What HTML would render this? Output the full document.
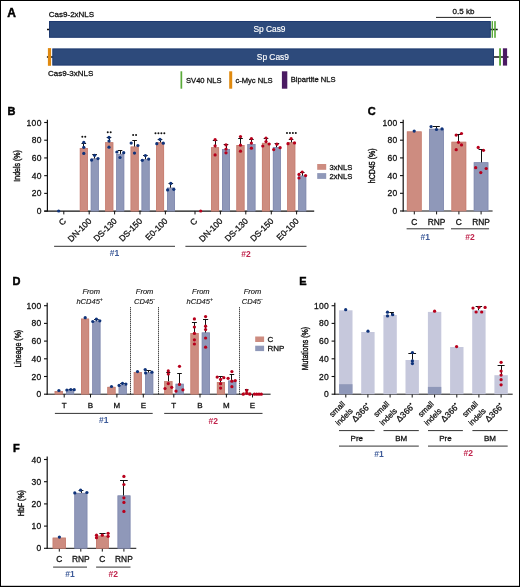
<!DOCTYPE html>
<html><head><meta charset="utf-8"><title>Figure</title>
<style>
html,body{margin:0;padding:0;background:#fff;}
body{width:520px;height:587px;overflow:hidden;}
svg{display:block;font-family:"Liberation Sans",sans-serif;will-change:transform;}
</style></head><body>
<svg width="520" height="587" viewBox="0 0 520 587">
<rect x="0" y="0" width="520" height="587" fill="#fff"/>
<text x="7.2" y="17.2" font-size="12" fill="#000" font-weight="bold" stroke="#000" stroke-width="0.45">A</text>
<text x="48.8" y="17.2" font-size="8" fill="#111" stroke="#111" stroke-width="0.28">Cas9-2xNLS</text>
<text x="452.6" y="14.4" font-size="8" fill="#111" stroke="#111" stroke-width="0.28">0.5 kb</text>
<line x1="436" y1="17.4" x2="491" y2="17.4" stroke="#222" stroke-width="1"/>
<line x1="47" y1="29.5" x2="497.7" y2="29.5" stroke="#111" stroke-width="1.4"/>
<rect x="49.5" y="21.5" width="440.8" height="15.8" fill="#2d4a7b" stroke="#1e3a70" stroke-width="1"/>
<rect x="491.6" y="21.1" width="1.4" height="16.7" fill="#5aaa3a"/>
<rect x="494.2" y="21.1" width="1.6" height="16.7" fill="#5aaa3a"/>
<text x="253.4" y="32.3" font-size="8.4" fill="#fff" stroke="#fff" stroke-width="0.15">Sp Cas9</text>
<line x1="46.9" y1="57" x2="508.5" y2="57" stroke="#111" stroke-width="1.5"/>
<rect x="47.9" y="48.1" width="3.2" height="17.7" fill="#e08a10"/>
<rect x="52.8" y="48.9" width="440.7" height="16.2" fill="#2d4a7b" stroke="#1e3a70" stroke-width="1"/>
<rect x="499.1" y="48.3" width="1.9" height="17.3" fill="#5aaa3a"/>
<rect x="502.9" y="48.3" width="4.2" height="17.3" fill="#4a1a62"/>
<text x="256.8" y="59.7" font-size="8.4" fill="#fff" stroke="#fff" stroke-width="0.15">Sp Cas9</text>
<text x="48" y="75.8" font-size="8" fill="#111" stroke="#111" stroke-width="0.28">Cas9-3xNLS</text>
<rect x="180.5" y="71.3" width="1.7" height="17.4" fill="#5aaa3a"/>
<text x="186" y="82.5" font-size="7.6" fill="#111" stroke="#111" stroke-width="0.28">SV40 NLS</text>
<rect x="229.2" y="71.3" width="3" height="17.4" fill="#e08a10"/>
<text x="235.4" y="82.6" font-size="7.6" fill="#111" stroke="#111" stroke-width="0.28">c-Myc NLS</text>
<rect x="281.9" y="71.3" width="5.4" height="17.4" fill="#4a1a62"/>
<text x="290.8" y="82.4" font-size="7.6" fill="#111" stroke="#111" stroke-width="0.28">Bipartite NLS</text>
<text x="7.6" y="115.1" font-size="11" fill="#000" font-weight="bold" stroke="#000" stroke-width="0.45">B</text>
<line x1="47.4" y1="119.8" x2="47.4" y2="211.6" stroke="#111" stroke-width="1.2"/>
<line x1="44.2" y1="211.1" x2="47.4" y2="211.1" stroke="#111" stroke-width="1.1"/>
<text x="41.7" y="214.1" font-size="8.5" text-anchor="end" fill="#111" stroke="#111" stroke-width="0.28" letter-spacing="0.3">0</text>
<line x1="44.2" y1="193.38" x2="47.4" y2="193.38" stroke="#111" stroke-width="1.1"/>
<text x="41.7" y="196.38" font-size="8.5" text-anchor="end" fill="#111" stroke="#111" stroke-width="0.28" letter-spacing="0.3">20</text>
<line x1="44.2" y1="175.66" x2="47.4" y2="175.66" stroke="#111" stroke-width="1.1"/>
<text x="41.7" y="178.66" font-size="8.5" text-anchor="end" fill="#111" stroke="#111" stroke-width="0.28" letter-spacing="0.3">40</text>
<line x1="44.2" y1="157.94" x2="47.4" y2="157.94" stroke="#111" stroke-width="1.1"/>
<text x="41.7" y="160.94" font-size="8.5" text-anchor="end" fill="#111" stroke="#111" stroke-width="0.28" letter-spacing="0.3">60</text>
<line x1="44.2" y1="140.22" x2="47.4" y2="140.22" stroke="#111" stroke-width="1.1"/>
<text x="41.7" y="143.22" font-size="8.5" text-anchor="end" fill="#111" stroke="#111" stroke-width="0.28" letter-spacing="0.3">80</text>
<line x1="44.2" y1="122.5" x2="47.4" y2="122.5" stroke="#111" stroke-width="1.1"/>
<text x="41.7" y="125.5" font-size="8.5" text-anchor="end" fill="#111" stroke="#111" stroke-width="0.28" letter-spacing="0.3">100</text>
<text transform="translate(16.7 165.9) rotate(-90) scale(0.78 1)" font-size="9" text-anchor="middle" y="3.24" stroke="#111" stroke-width="0.4" fill="#111">Indels (%)</text>
<line x1="44.2" y1="211.1" x2="314.2" y2="211.1" stroke="#111" stroke-width="1.2"/>
<line x1="63.8" y1="211.1" x2="63.8" y2="214.4" stroke="#111" stroke-width="1"/>
<line x1="89.2" y1="211.1" x2="89.2" y2="214.4" stroke="#111" stroke-width="1"/>
<line x1="114.6" y1="211.1" x2="114.6" y2="214.4" stroke="#111" stroke-width="1"/>
<line x1="140" y1="211.1" x2="140" y2="214.4" stroke="#111" stroke-width="1"/>
<line x1="165.4" y1="211.1" x2="165.4" y2="214.4" stroke="#111" stroke-width="1"/>
<line x1="195" y1="211.1" x2="195" y2="214.4" stroke="#111" stroke-width="1"/>
<line x1="220.4" y1="211.1" x2="220.4" y2="214.4" stroke="#111" stroke-width="1"/>
<line x1="245.8" y1="211.1" x2="245.8" y2="214.4" stroke="#111" stroke-width="1"/>
<line x1="271.3" y1="211.1" x2="271.3" y2="214.4" stroke="#111" stroke-width="1"/>
<line x1="296.6" y1="211.1" x2="296.6" y2="214.4" stroke="#111" stroke-width="1"/>
<rect x="79.85" y="148" width="8" height="63.1" fill="#cd8c80"/>
<rect x="80.2" y="148.35" width="7.3" height="62.75" fill="none" stroke="#c67d6f" stroke-width="0.7"/>
<rect x="90.8" y="158.5" width="8" height="52.6" fill="#8f98b9"/>
<rect x="91.15" y="158.85" width="7.3" height="52.25" fill="none" stroke="#8189ae" stroke-width="0.7"/>
<rect x="105.25" y="142.3" width="8" height="68.8" fill="#cd8c80"/>
<rect x="105.6" y="142.65" width="7.3" height="68.45" fill="none" stroke="#c67d6f" stroke-width="0.7"/>
<rect x="116.2" y="153.9" width="8" height="57.2" fill="#8f98b9"/>
<rect x="116.55" y="154.25" width="7.3" height="56.85" fill="none" stroke="#8189ae" stroke-width="0.7"/>
<rect x="130.65" y="146.6" width="8" height="64.5" fill="#cd8c80"/>
<rect x="131" y="146.95" width="7.3" height="64.15" fill="none" stroke="#c67d6f" stroke-width="0.7"/>
<rect x="141.6" y="159.1" width="8" height="52" fill="#8f98b9"/>
<rect x="141.95" y="159.45" width="7.3" height="51.65" fill="none" stroke="#8189ae" stroke-width="0.7"/>
<rect x="156.05" y="142.3" width="8" height="68.8" fill="#cd8c80"/>
<rect x="156.4" y="142.65" width="7.3" height="68.45" fill="none" stroke="#c67d6f" stroke-width="0.7"/>
<rect x="167" y="187.7" width="8" height="23.4" fill="#8f98b9"/>
<rect x="167.35" y="188.05" width="7.3" height="23.05" fill="none" stroke="#8189ae" stroke-width="0.7"/>
<rect x="211.05" y="147.3" width="8" height="63.8" fill="#cd8c80"/>
<rect x="211.4" y="147.65" width="7.3" height="63.45" fill="none" stroke="#c67d6f" stroke-width="0.7"/>
<rect x="222" y="149" width="8" height="62.1" fill="#8f98b9"/>
<rect x="222.35" y="149.35" width="7.3" height="61.75" fill="none" stroke="#8189ae" stroke-width="0.7"/>
<rect x="236.45" y="145.1" width="8" height="66" fill="#cd8c80"/>
<rect x="236.8" y="145.45" width="7.3" height="65.65" fill="none" stroke="#c67d6f" stroke-width="0.7"/>
<rect x="247.4" y="144.1" width="8" height="67" fill="#8f98b9"/>
<rect x="247.75" y="144.45" width="7.3" height="66.65" fill="none" stroke="#8189ae" stroke-width="0.7"/>
<rect x="261.95" y="142.9" width="8" height="68.2" fill="#cd8c80"/>
<rect x="262.3" y="143.25" width="7.3" height="67.85" fill="none" stroke="#c67d6f" stroke-width="0.7"/>
<rect x="272.9" y="147.2" width="8" height="63.9" fill="#8f98b9"/>
<rect x="273.25" y="147.55" width="7.3" height="63.55" fill="none" stroke="#8189ae" stroke-width="0.7"/>
<rect x="287.25" y="142.3" width="8" height="68.8" fill="#cd8c80"/>
<rect x="287.6" y="142.65" width="7.3" height="68.45" fill="none" stroke="#c67d6f" stroke-width="0.7"/>
<rect x="298.2" y="175.7" width="8" height="35.4" fill="#8f98b9"/>
<rect x="298.55" y="176.05" width="7.3" height="35.05" fill="none" stroke="#8189ae" stroke-width="0.7"/>
<line x1="83.5" y1="148" x2="83.5" y2="143.5" stroke="#111" stroke-width="1.0"/>
<line x1="81.5" y1="143.5" x2="86.1" y2="143.5" stroke="#111" stroke-width="1.0"/>
<line x1="94.5" y1="158.5" x2="94.5" y2="154.5" stroke="#111" stroke-width="1.0"/>
<line x1="92.3" y1="154.5" x2="96.9" y2="154.5" stroke="#111" stroke-width="1.0"/>
<line x1="109.5" y1="142.3" x2="109.5" y2="137.5" stroke="#111" stroke-width="1.0"/>
<line x1="106.7" y1="137.5" x2="111.3" y2="137.5" stroke="#111" stroke-width="1.0"/>
<line x1="120.5" y1="153.9" x2="120.5" y2="150.5" stroke="#111" stroke-width="1.0"/>
<line x1="117.7" y1="150.5" x2="122.3" y2="150.5" stroke="#111" stroke-width="1.0"/>
<line x1="134.5" y1="146.6" x2="134.5" y2="140.5" stroke="#111" stroke-width="1.0"/>
<line x1="132.3" y1="140.5" x2="136.9" y2="140.5" stroke="#111" stroke-width="1.0"/>
<line x1="145.5" y1="159.1" x2="145.5" y2="155.5" stroke="#111" stroke-width="1.0"/>
<line x1="143.1" y1="155.5" x2="147.7" y2="155.5" stroke="#111" stroke-width="1.0"/>
<line x1="160.5" y1="142.3" x2="160.5" y2="139.5" stroke="#111" stroke-width="1.0"/>
<line x1="157.7" y1="139.5" x2="162.3" y2="139.5" stroke="#111" stroke-width="1.0"/>
<line x1="170.5" y1="187.7" x2="170.5" y2="183.5" stroke="#111" stroke-width="1.0"/>
<line x1="168.5" y1="183.5" x2="173.1" y2="183.5" stroke="#111" stroke-width="1.0"/>
<line x1="215.5" y1="147.3" x2="215.5" y2="140.5" stroke="#111" stroke-width="1.0"/>
<line x1="212.8" y1="140.5" x2="217.4" y2="140.5" stroke="#111" stroke-width="1.0"/>
<line x1="226.5" y1="149" x2="226.5" y2="144.5" stroke="#111" stroke-width="1.0"/>
<line x1="223.7" y1="144.5" x2="228.3" y2="144.5" stroke="#111" stroke-width="1.0"/>
<line x1="240.5" y1="145.1" x2="240.5" y2="138.5" stroke="#111" stroke-width="1.0"/>
<line x1="238.2" y1="138.5" x2="242.8" y2="138.5" stroke="#111" stroke-width="1.0"/>
<line x1="251.5" y1="144.1" x2="251.5" y2="139.5" stroke="#111" stroke-width="1.0"/>
<line x1="249.1" y1="139.5" x2="253.7" y2="139.5" stroke="#111" stroke-width="1.0"/>
<line x1="266.5" y1="142.9" x2="266.5" y2="138.5" stroke="#111" stroke-width="1.0"/>
<line x1="263.7" y1="138.5" x2="268.3" y2="138.5" stroke="#111" stroke-width="1.0"/>
<line x1="276.5" y1="147.2" x2="276.5" y2="143.5" stroke="#111" stroke-width="1.0"/>
<line x1="274.6" y1="143.5" x2="279.2" y2="143.5" stroke="#111" stroke-width="1.0"/>
<line x1="291.5" y1="142.3" x2="291.5" y2="139.5" stroke="#111" stroke-width="1.0"/>
<line x1="288.8" y1="139.5" x2="293.4" y2="139.5" stroke="#111" stroke-width="1.0"/>
<line x1="302.5" y1="175.7" x2="302.5" y2="172.5" stroke="#111" stroke-width="1.0"/>
<line x1="299.9" y1="172.5" x2="304.5" y2="172.5" stroke="#111" stroke-width="1.0"/>
<circle cx="58.7" cy="211" r="1.62" fill="#0f337a"/>
<circle cx="83.8" cy="142.4" r="1.62" fill="#0f337a"/>
<circle cx="83.8" cy="147.3" r="1.62" fill="#0f337a"/>
<circle cx="83.8" cy="153.4" r="1.62" fill="#0f337a"/>
<circle cx="94.6" cy="155.3" r="1.62" fill="#0f337a"/>
<circle cx="91.6" cy="160.1" r="1.62" fill="#0f337a"/>
<circle cx="98" cy="158.6" r="1.62" fill="#0f337a"/>
<circle cx="109" cy="137.4" r="1.62" fill="#0f337a"/>
<circle cx="109" cy="141" r="1.62" fill="#0f337a"/>
<circle cx="109" cy="147.2" r="1.62" fill="#0f337a"/>
<circle cx="116.9" cy="152" r="1.62" fill="#0f337a"/>
<circle cx="123.7" cy="152.7" r="1.62" fill="#0f337a"/>
<circle cx="120" cy="157.5" r="1.62" fill="#0f337a"/>
<circle cx="131.2" cy="143.1" r="1.62" fill="#0f337a"/>
<circle cx="137.9" cy="145.5" r="1.62" fill="#0f337a"/>
<circle cx="134.5" cy="153.1" r="1.62" fill="#0f337a"/>
<circle cx="145.4" cy="155.6" r="1.62" fill="#0f337a"/>
<circle cx="142.3" cy="160.3" r="1.62" fill="#0f337a"/>
<circle cx="148.7" cy="159.1" r="1.62" fill="#0f337a"/>
<circle cx="160" cy="139.4" r="1.62" fill="#0f337a"/>
<circle cx="156.8" cy="143.7" r="1.62" fill="#0f337a"/>
<circle cx="163.3" cy="143.2" r="1.62" fill="#0f337a"/>
<circle cx="170.8" cy="183.4" r="1.62" fill="#0f337a"/>
<circle cx="167.6" cy="189.9" r="1.62" fill="#0f337a"/>
<circle cx="173.8" cy="189.3" r="1.62" fill="#0f337a"/>
<circle cx="200.7" cy="211" r="1.62" fill="#b8001c"/>
<circle cx="215.1" cy="139.7" r="1.62" fill="#b8001c"/>
<circle cx="215.1" cy="145.8" r="1.62" fill="#b8001c"/>
<circle cx="215.1" cy="154.9" r="1.62" fill="#b8001c"/>
<circle cx="226" cy="144.9" r="1.62" fill="#b8001c"/>
<circle cx="226" cy="149.1" r="1.62" fill="#b8001c"/>
<circle cx="226" cy="152.8" r="1.62" fill="#b8001c"/>
<circle cx="240.5" cy="136.6" r="1.62" fill="#b8001c"/>
<circle cx="240.5" cy="145.2" r="1.62" fill="#b8001c"/>
<circle cx="240.5" cy="151.2" r="1.62" fill="#b8001c"/>
<circle cx="251.4" cy="138.6" r="1.62" fill="#b8001c"/>
<circle cx="251.4" cy="143.1" r="1.62" fill="#b8001c"/>
<circle cx="251.4" cy="148.2" r="1.62" fill="#b8001c"/>
<circle cx="266" cy="138" r="1.62" fill="#b8001c"/>
<circle cx="266" cy="141.6" r="1.62" fill="#b8001c"/>
<circle cx="269.2" cy="144" r="1.62" fill="#b8001c"/>
<circle cx="262.8" cy="146" r="1.62" fill="#b8001c"/>
<circle cx="276.9" cy="144.2" r="1.62" fill="#b8001c"/>
<circle cx="273.7" cy="149.6" r="1.62" fill="#b8001c"/>
<circle cx="280.1" cy="147.7" r="1.62" fill="#b8001c"/>
<circle cx="291.1" cy="138.7" r="1.62" fill="#b8001c"/>
<circle cx="288" cy="143.7" r="1.62" fill="#b8001c"/>
<circle cx="294.5" cy="142.9" r="1.62" fill="#b8001c"/>
<circle cx="302.2" cy="172" r="1.62" fill="#b8001c"/>
<circle cx="299" cy="174.4" r="1.62" fill="#b8001c"/>
<circle cx="305.6" cy="175.6" r="1.62" fill="#b8001c"/>
<circle cx="299" cy="178" r="1.62" fill="#b8001c"/>
<circle cx="82.33" cy="136.7" r="1.0" fill="#111"/>
<circle cx="85.27" cy="136.7" r="1.0" fill="#111"/>
<circle cx="107.73" cy="132.2" r="1.0" fill="#111"/>
<circle cx="110.67" cy="132.2" r="1.0" fill="#111"/>
<circle cx="133.12" cy="135.1" r="1.0" fill="#111"/>
<circle cx="136.07" cy="135.1" r="1.0" fill="#111"/>
<circle cx="155.47" cy="133.3" r="1.0" fill="#111"/>
<circle cx="158.43" cy="133.3" r="1.0" fill="#111"/>
<circle cx="161.38" cy="133.3" r="1.0" fill="#111"/>
<circle cx="164.33" cy="133.3" r="1.0" fill="#111"/>
<circle cx="286.97" cy="133.1" r="1.0" fill="#111"/>
<circle cx="289.92" cy="133.1" r="1.0" fill="#111"/>
<circle cx="292.88" cy="133.1" r="1.0" fill="#111"/>
<circle cx="295.82" cy="133.1" r="1.0" fill="#111"/>
<text transform="translate(66.6 221.7) rotate(-45)" font-size="8.5" text-anchor="end" fill="#111" stroke="#111" stroke-width="0.28">C</text>
<text transform="translate(92 221.7) rotate(-45)" font-size="8.5" text-anchor="end" fill="#111" stroke="#111" stroke-width="0.28">DN-100</text>
<text transform="translate(117.4 221.7) rotate(-45)" font-size="8.5" text-anchor="end" fill="#111" stroke="#111" stroke-width="0.28">DS-130</text>
<text transform="translate(142.8 221.7) rotate(-45)" font-size="8.5" text-anchor="end" fill="#111" stroke="#111" stroke-width="0.28">DS-150</text>
<text transform="translate(168.2 221.7) rotate(-45)" font-size="8.5" text-anchor="end" fill="#111" stroke="#111" stroke-width="0.28">E0-100</text>
<text transform="translate(197.8 221.7) rotate(-45)" font-size="8.5" text-anchor="end" fill="#111" stroke="#111" stroke-width="0.28">C</text>
<text transform="translate(223.2 221.7) rotate(-45)" font-size="8.5" text-anchor="end" fill="#111" stroke="#111" stroke-width="0.28">DN-100</text>
<text transform="translate(248.6 221.7) rotate(-45)" font-size="8.5" text-anchor="end" fill="#111" stroke="#111" stroke-width="0.28">DS-130</text>
<text transform="translate(274.1 221.7) rotate(-45)" font-size="8.5" text-anchor="end" fill="#111" stroke="#111" stroke-width="0.28">DS-150</text>
<text transform="translate(299.4 221.7) rotate(-45)" font-size="8.5" text-anchor="end" fill="#111" stroke="#111" stroke-width="0.28">E0-100</text>
<line x1="54.1" y1="246.3" x2="175" y2="246.3" stroke="#333" stroke-width="1"/>
<line x1="185.4" y1="246.3" x2="306.5" y2="246.3" stroke="#333" stroke-width="1"/>
<text x="114.6" y="256.4" font-size="8.5" text-anchor="middle" fill="#3d5a98" font-weight="bold">#1</text>
<text x="246" y="256.6" font-size="8.5" text-anchor="middle" fill="#c0244c" font-weight="bold">#2</text>
<rect x="317.2" y="164" width="9" height="5.8" fill="#cd8c80"/>
<rect x="317.2" y="173.1" width="9" height="5.8" fill="#8f98b9"/>
<text x="329.6" y="169.6" font-size="7.6" fill="#111" stroke="#111" stroke-width="0.28">3xNLS</text>
<text x="329.6" y="178.8" font-size="7.6" fill="#111" stroke="#111" stroke-width="0.28">2xNLS</text>
<text x="367.8" y="115" font-size="11" fill="#000" font-weight="bold" stroke="#000" stroke-width="0.45">C</text>
<line x1="403.2" y1="119.8" x2="403.2" y2="211.5" stroke="#111" stroke-width="1.2"/>
<line x1="400" y1="211" x2="403.2" y2="211" stroke="#111" stroke-width="1.1"/>
<text x="397.5" y="214" font-size="8.5" text-anchor="end" fill="#111" stroke="#111" stroke-width="0.28" letter-spacing="0.3">0</text>
<line x1="400" y1="193.3" x2="403.2" y2="193.3" stroke="#111" stroke-width="1.1"/>
<text x="397.5" y="196.3" font-size="8.5" text-anchor="end" fill="#111" stroke="#111" stroke-width="0.28" letter-spacing="0.3">20</text>
<line x1="400" y1="175.6" x2="403.2" y2="175.6" stroke="#111" stroke-width="1.1"/>
<text x="397.5" y="178.6" font-size="8.5" text-anchor="end" fill="#111" stroke="#111" stroke-width="0.28" letter-spacing="0.3">40</text>
<line x1="400" y1="157.9" x2="403.2" y2="157.9" stroke="#111" stroke-width="1.1"/>
<text x="397.5" y="160.9" font-size="8.5" text-anchor="end" fill="#111" stroke="#111" stroke-width="0.28" letter-spacing="0.3">60</text>
<line x1="400" y1="140.2" x2="403.2" y2="140.2" stroke="#111" stroke-width="1.1"/>
<text x="397.5" y="143.2" font-size="8.5" text-anchor="end" fill="#111" stroke="#111" stroke-width="0.28" letter-spacing="0.3">80</text>
<line x1="400" y1="122.5" x2="403.2" y2="122.5" stroke="#111" stroke-width="1.1"/>
<text x="397.5" y="125.5" font-size="8.5" text-anchor="end" fill="#111" stroke="#111" stroke-width="0.28" letter-spacing="0.3">100</text>
<text transform="translate(372 165.8) rotate(-90) scale(0.78 1)" font-size="9" text-anchor="middle" y="3.24" stroke="#111" stroke-width="0.4" fill="#111">hCD45 (%)</text>
<line x1="402.7" y1="211" x2="492.6" y2="211" stroke="#111" stroke-width="1"/>
<line x1="414.3" y1="211" x2="414.3" y2="214.4" stroke="#111" stroke-width="1"/>
<line x1="436.6" y1="211" x2="436.6" y2="214.4" stroke="#111" stroke-width="1"/>
<line x1="458.9" y1="211" x2="458.9" y2="214.4" stroke="#111" stroke-width="1"/>
<line x1="481.1" y1="211" x2="481.1" y2="214.4" stroke="#111" stroke-width="1"/>
<rect x="406.9" y="131.5" width="14.7" height="79.5" fill="#cd8c80"/>
<rect x="407.25" y="131.85" width="14" height="79.15" fill="none" stroke="#c67d6f" stroke-width="0.7"/>
<rect x="429.2" y="128.8" width="14.7" height="82.2" fill="#8f98b9"/>
<rect x="429.55" y="129.15" width="14" height="81.85" fill="none" stroke="#8189ae" stroke-width="0.7"/>
<rect x="451.5" y="141.8" width="14.7" height="69.2" fill="#cd8c80"/>
<rect x="451.85" y="142.15" width="14" height="68.85" fill="none" stroke="#c67d6f" stroke-width="0.7"/>
<rect x="473.8" y="162.3" width="14.5" height="48.7" fill="#8f98b9"/>
<rect x="474.15" y="162.65" width="13.8" height="48.35" fill="none" stroke="#8189ae" stroke-width="0.7"/>
<line x1="436.5" y1="128.8" x2="436.5" y2="126.5" stroke="#111" stroke-width="1.0"/>
<line x1="432.8" y1="126.5" x2="439.8" y2="126.5" stroke="#111" stroke-width="1.0"/>
<line x1="458.5" y1="141.8" x2="458.5" y2="134.5" stroke="#111" stroke-width="1.0"/>
<line x1="456.5" y1="134.5" x2="461.1" y2="134.5" stroke="#111" stroke-width="1.0"/>
<line x1="481.5" y1="162.3" x2="481.5" y2="149.5" stroke="#111" stroke-width="1.0"/>
<line x1="478.6" y1="149.5" x2="483.6" y2="149.5" stroke="#111" stroke-width="1.0"/>
<circle cx="414.2" cy="131.1" r="1.62" fill="#0f337a"/>
<circle cx="431.1" cy="126.6" r="1.62" fill="#0f337a"/>
<circle cx="436.5" cy="129.5" r="1.62" fill="#0f337a"/>
<circle cx="442" cy="128.9" r="1.62" fill="#0f337a"/>
<circle cx="456.2" cy="135.1" r="1.62" fill="#b8001c"/>
<circle cx="461.5" cy="133.5" r="1.62" fill="#b8001c"/>
<circle cx="458.5" cy="142.3" r="1.62" fill="#b8001c"/>
<circle cx="461.5" cy="144.9" r="1.62" fill="#b8001c"/>
<circle cx="456.2" cy="149.7" r="1.62" fill="#b8001c"/>
<circle cx="478.2" cy="147.4" r="1.62" fill="#b8001c"/>
<circle cx="483.5" cy="150.3" r="1.62" fill="#b8001c"/>
<circle cx="475.7" cy="167.7" r="1.62" fill="#b8001c"/>
<circle cx="486.2" cy="168.5" r="1.62" fill="#b8001c"/>
<circle cx="480.8" cy="172.6" r="1.62" fill="#b8001c"/>
<text x="414.3" y="225.1" font-size="8.4" text-anchor="middle" fill="#111" stroke="#111" stroke-width="0.28">C</text>
<text x="436.6" y="225.1" font-size="8.4" text-anchor="middle" fill="#111" stroke="#111" stroke-width="0.28">RNP</text>
<text x="458.9" y="225.1" font-size="8.4" text-anchor="middle" fill="#111" stroke="#111" stroke-width="0.28">C</text>
<text x="481.1" y="225.1" font-size="8.4" text-anchor="middle" fill="#111" stroke="#111" stroke-width="0.28">RNP</text>
<line x1="406.6" y1="228.8" x2="444.1" y2="228.8" stroke="#333" stroke-width="1"/>
<line x1="451" y1="228.8" x2="489.1" y2="228.8" stroke="#333" stroke-width="1"/>
<text x="425.3" y="239.8" font-size="8.5" text-anchor="middle" fill="#3d5a98" font-weight="bold">#1</text>
<text x="470.1" y="239.8" font-size="8.5" text-anchor="middle" fill="#c0244c" font-weight="bold">#2</text>
<text x="12.4" y="284.9" font-size="11" fill="#000" font-weight="bold" stroke="#000" stroke-width="0.45">D</text>
<line x1="47.2" y1="302.8" x2="47.2" y2="394.7" stroke="#111" stroke-width="1.2"/>
<line x1="44" y1="394.2" x2="47.2" y2="394.2" stroke="#111" stroke-width="1.1"/>
<text x="41.5" y="397.2" font-size="8.5" text-anchor="end" fill="#111" stroke="#111" stroke-width="0.28" letter-spacing="0.3">0</text>
<line x1="44" y1="376.5" x2="47.2" y2="376.5" stroke="#111" stroke-width="1.1"/>
<text x="41.5" y="379.5" font-size="8.5" text-anchor="end" fill="#111" stroke="#111" stroke-width="0.28" letter-spacing="0.3">20</text>
<line x1="44" y1="358.8" x2="47.2" y2="358.8" stroke="#111" stroke-width="1.1"/>
<text x="41.5" y="361.8" font-size="8.5" text-anchor="end" fill="#111" stroke="#111" stroke-width="0.28" letter-spacing="0.3">40</text>
<line x1="44" y1="341.1" x2="47.2" y2="341.1" stroke="#111" stroke-width="1.1"/>
<text x="41.5" y="344.1" font-size="8.5" text-anchor="end" fill="#111" stroke="#111" stroke-width="0.28" letter-spacing="0.3">60</text>
<line x1="44" y1="323.4" x2="47.2" y2="323.4" stroke="#111" stroke-width="1.1"/>
<text x="41.5" y="326.4" font-size="8.5" text-anchor="end" fill="#111" stroke="#111" stroke-width="0.28" letter-spacing="0.3">80</text>
<line x1="44" y1="305.7" x2="47.2" y2="305.7" stroke="#111" stroke-width="1.1"/>
<text x="41.5" y="308.7" font-size="8.5" text-anchor="end" fill="#111" stroke="#111" stroke-width="0.28" letter-spacing="0.3">100</text>
<text transform="translate(17.4 348.7) rotate(-90) scale(0.78 1)" font-size="9" text-anchor="middle" y="3.24" stroke="#111" stroke-width="0.4" fill="#111">Lineage (%)</text>
<line x1="46.7" y1="394.2" x2="270.6" y2="394.2" stroke="#111" stroke-width="1"/>
<line x1="64.2" y1="394.2" x2="64.2" y2="397.5" stroke="#111" stroke-width="1"/>
<line x1="90.5" y1="394.2" x2="90.5" y2="397.5" stroke="#111" stroke-width="1"/>
<line x1="116.9" y1="394.2" x2="116.9" y2="397.5" stroke="#111" stroke-width="1"/>
<line x1="143.3" y1="394.2" x2="143.3" y2="397.5" stroke="#111" stroke-width="1"/>
<line x1="173.8" y1="394.2" x2="173.8" y2="397.5" stroke="#111" stroke-width="1"/>
<line x1="200" y1="394.2" x2="200" y2="397.5" stroke="#111" stroke-width="1"/>
<line x1="226.4" y1="394.2" x2="226.4" y2="397.5" stroke="#111" stroke-width="1"/>
<line x1="252.5" y1="394.2" x2="252.5" y2="397.5" stroke="#111" stroke-width="1"/>
<rect x="54.7" y="391.1" width="8.1" height="3.1" fill="#cd8c80"/>
<rect x="55.05" y="391.45" width="7.4" height="2.75" fill="none" stroke="#c67d6f" stroke-width="0.7"/>
<rect x="66" y="389.2" width="8.1" height="5" fill="#8f98b9"/>
<rect x="66.35" y="389.55" width="7.4" height="4.65" fill="none" stroke="#8189ae" stroke-width="0.7"/>
<rect x="81" y="318.7" width="8.1" height="75.5" fill="#cd8c80"/>
<rect x="81.35" y="319.05" width="7.4" height="75.15" fill="none" stroke="#c67d6f" stroke-width="0.7"/>
<rect x="92.3" y="321.2" width="8.1" height="73" fill="#8f98b9"/>
<rect x="92.65" y="321.55" width="7.4" height="72.65" fill="none" stroke="#8189ae" stroke-width="0.7"/>
<rect x="107.4" y="386.9" width="8.1" height="7.3" fill="#cd8c80"/>
<rect x="107.75" y="387.25" width="7.4" height="6.95" fill="none" stroke="#c67d6f" stroke-width="0.7"/>
<rect x="118.7" y="385" width="8.1" height="9.2" fill="#8f98b9"/>
<rect x="119.05" y="385.35" width="7.4" height="8.85" fill="none" stroke="#8189ae" stroke-width="0.7"/>
<rect x="133.8" y="372.1" width="8.1" height="22.1" fill="#cd8c80"/>
<rect x="134.15" y="372.45" width="7.4" height="21.75" fill="none" stroke="#c67d6f" stroke-width="0.7"/>
<rect x="145.1" y="372.5" width="8.1" height="21.7" fill="#8f98b9"/>
<rect x="145.45" y="372.85" width="7.4" height="21.35" fill="none" stroke="#8189ae" stroke-width="0.7"/>
<rect x="164.3" y="381.3" width="8.1" height="12.9" fill="#cd8c80"/>
<rect x="164.65" y="381.65" width="7.4" height="12.55" fill="none" stroke="#c67d6f" stroke-width="0.7"/>
<rect x="175.6" y="383.8" width="8.1" height="10.4" fill="#8f98b9"/>
<rect x="175.95" y="384.15" width="7.4" height="10.05" fill="none" stroke="#8189ae" stroke-width="0.7"/>
<rect x="190.5" y="333.1" width="8.1" height="61.1" fill="#cd8c80"/>
<rect x="190.85" y="333.45" width="7.4" height="60.75" fill="none" stroke="#c67d6f" stroke-width="0.7"/>
<rect x="201.8" y="332.5" width="8.1" height="61.7" fill="#8f98b9"/>
<rect x="202.15" y="332.85" width="7.4" height="61.35" fill="none" stroke="#8189ae" stroke-width="0.7"/>
<rect x="216.9" y="382.1" width="8.1" height="12.1" fill="#cd8c80"/>
<rect x="217.25" y="382.45" width="7.4" height="11.75" fill="none" stroke="#c67d6f" stroke-width="0.7"/>
<rect x="228.2" y="380.6" width="8.1" height="13.6" fill="#8f98b9"/>
<rect x="228.55" y="380.95" width="7.4" height="13.25" fill="none" stroke="#8189ae" stroke-width="0.7"/>
<rect x="243" y="392.6" width="8.1" height="1.6" fill="#cd8c80"/>
<rect x="243.35" y="392.95" width="7.4" height="1.25" fill="none" stroke="#c67d6f" stroke-width="0.7"/>
<line x1="130.5" y1="307.3" x2="130.5" y2="394.2" stroke="#000" stroke-width="1.0" stroke-dasharray="1 1"/>
<line x1="158.5" y1="307.3" x2="158.5" y2="394.2" stroke="#000" stroke-width="1.0" stroke-dasharray="1 1"/>
<line x1="239.5" y1="307.3" x2="239.5" y2="394.2" stroke="#000" stroke-width="1.0" stroke-dasharray="1 1"/>
<line x1="70.5" y1="389.2" x2="70.5" y2="389.5" stroke="#111" stroke-width="1.0"/>
<line x1="69.05" y1="389.5" x2="72.55" y2="389.5" stroke="#111" stroke-width="1.0"/>
<line x1="96.5" y1="321.2" x2="96.5" y2="319.5" stroke="#111" stroke-width="1.0"/>
<line x1="94.1" y1="319.5" x2="98.7" y2="319.5" stroke="#111" stroke-width="1.0"/>
<line x1="122.5" y1="385" x2="122.5" y2="383.5" stroke="#111" stroke-width="1.0"/>
<line x1="120.2" y1="383.5" x2="124.8" y2="383.5" stroke="#111" stroke-width="1.0"/>
<line x1="148.5" y1="372.5" x2="148.5" y2="370.5" stroke="#111" stroke-width="1.0"/>
<line x1="146.2" y1="370.5" x2="150.8" y2="370.5" stroke="#111" stroke-width="1.0"/>
<line x1="168.5" y1="381.3" x2="168.5" y2="372.5" stroke="#111" stroke-width="1.0"/>
<line x1="166.25" y1="372.5" x2="170.35" y2="372.5" stroke="#111" stroke-width="1.0"/>
<line x1="179.5" y1="383.8" x2="179.5" y2="373.5" stroke="#111" stroke-width="1.0"/>
<line x1="177.2" y1="373.5" x2="181.8" y2="373.5" stroke="#111" stroke-width="1.0"/>
<line x1="194.5" y1="333.1" x2="194.5" y2="322.5" stroke="#111" stroke-width="1.0"/>
<line x1="191.95" y1="322.5" x2="196.85" y2="322.5" stroke="#111" stroke-width="1.0"/>
<line x1="205.5" y1="332.5" x2="205.5" y2="319.5" stroke="#111" stroke-width="1.0"/>
<line x1="203" y1="319.5" x2="208.2" y2="319.5" stroke="#111" stroke-width="1.0"/>
<line x1="220.5" y1="382.1" x2="220.5" y2="376.5" stroke="#111" stroke-width="1.0"/>
<line x1="218.3" y1="376.5" x2="222.9" y2="376.5" stroke="#111" stroke-width="1.0"/>
<line x1="231.5" y1="380.6" x2="231.5" y2="374.5" stroke="#111" stroke-width="1.0"/>
<line x1="229.6" y1="374.5" x2="234.2" y2="374.5" stroke="#111" stroke-width="1.0"/>
<line x1="246.5" y1="392.6" x2="246.5" y2="389.5" stroke="#111" stroke-width="1.0"/>
<line x1="244.95" y1="389.5" x2="248.45" y2="389.5" stroke="#111" stroke-width="1.0"/>
<circle cx="58.9" cy="390.5" r="1.62" fill="#0f337a"/>
<circle cx="66.9" cy="390" r="1.62" fill="#0f337a"/>
<circle cx="70.8" cy="389.5" r="1.62" fill="#0f337a"/>
<circle cx="74.2" cy="389.7" r="1.62" fill="#0f337a"/>
<circle cx="85.2" cy="317.7" r="1.62" fill="#0f337a"/>
<circle cx="92.8" cy="321.5" r="1.62" fill="#0f337a"/>
<circle cx="96.4" cy="319.2" r="1.62" fill="#0f337a"/>
<circle cx="99.8" cy="320.8" r="1.62" fill="#0f337a"/>
<circle cx="111.5" cy="386.5" r="1.62" fill="#0f337a"/>
<circle cx="119.1" cy="385.4" r="1.62" fill="#0f337a"/>
<circle cx="122.5" cy="383.4" r="1.62" fill="#0f337a"/>
<circle cx="125.9" cy="384.1" r="1.62" fill="#0f337a"/>
<circle cx="137.5" cy="371.6" r="1.62" fill="#0f337a"/>
<circle cx="145.2" cy="369.6" r="1.62" fill="#0f337a"/>
<circle cx="145.6" cy="372.9" r="1.62" fill="#0f337a"/>
<circle cx="151.9" cy="372.2" r="1.62" fill="#0f337a"/>
<circle cx="168.3" cy="370.9" r="1.62" fill="#b8001c"/>
<circle cx="168.3" cy="374" r="1.62" fill="#b8001c"/>
<circle cx="168.3" cy="383.6" r="1.62" fill="#b8001c"/>
<circle cx="165" cy="388.5" r="1.62" fill="#b8001c"/>
<circle cx="171.7" cy="387.3" r="1.62" fill="#b8001c"/>
<circle cx="179.5" cy="366.3" r="1.62" fill="#b8001c"/>
<circle cx="179.5" cy="384.4" r="1.62" fill="#b8001c"/>
<circle cx="176" cy="391.1" r="1.62" fill="#b8001c"/>
<circle cx="182.9" cy="389.8" r="1.62" fill="#b8001c"/>
<circle cx="194.4" cy="318.9" r="1.62" fill="#b8001c"/>
<circle cx="194.4" cy="327" r="1.62" fill="#b8001c"/>
<circle cx="194.4" cy="333.4" r="1.62" fill="#b8001c"/>
<circle cx="194.4" cy="339.8" r="1.62" fill="#b8001c"/>
<circle cx="194.4" cy="344" r="1.62" fill="#b8001c"/>
<circle cx="205.6" cy="316.6" r="1.62" fill="#b8001c"/>
<circle cx="205.6" cy="326.2" r="1.62" fill="#b8001c"/>
<circle cx="205.6" cy="329.6" r="1.62" fill="#b8001c"/>
<circle cx="205.6" cy="338" r="1.62" fill="#b8001c"/>
<circle cx="205.6" cy="347.2" r="1.62" fill="#b8001c"/>
<circle cx="217.2" cy="377.1" r="1.62" fill="#b8001c"/>
<circle cx="223.8" cy="377.7" r="1.62" fill="#b8001c"/>
<circle cx="220.6" cy="379.4" r="1.62" fill="#b8001c"/>
<circle cx="220.6" cy="383.7" r="1.62" fill="#b8001c"/>
<circle cx="220.6" cy="388.1" r="1.62" fill="#b8001c"/>
<circle cx="231.9" cy="371.6" r="1.62" fill="#b8001c"/>
<circle cx="228.1" cy="378.3" r="1.62" fill="#b8001c"/>
<circle cx="235.2" cy="380.6" r="1.62" fill="#b8001c"/>
<circle cx="231.9" cy="381.2" r="1.62" fill="#b8001c"/>
<circle cx="231.9" cy="386.7" r="1.62" fill="#b8001c"/>
<circle cx="243.2" cy="394.2" r="1.62" fill="#b8001c"/>
<circle cx="246.7" cy="390.4" r="1.62" fill="#b8001c"/>
<circle cx="246.7" cy="393.3" r="1.62" fill="#b8001c"/>
<circle cx="249.8" cy="394.2" r="1.62" fill="#b8001c"/>
<circle cx="254.4" cy="394.2" r="1.62" fill="#b8001c"/>
<circle cx="256.7" cy="394.2" r="1.62" fill="#b8001c"/>
<circle cx="259" cy="394.2" r="1.62" fill="#b8001c"/>
<circle cx="261.3" cy="394.2" r="1.62" fill="#b8001c"/>
<text x="91.2" y="294.3" font-size="7.5" text-anchor="middle" fill="#111" font-style="italic" stroke="#111" stroke-width="0.12">From</text>
<text x="89.6" y="304.2" font-size="7.5" text-anchor="middle" fill="#111" font-style="italic" stroke="#111" stroke-width="0.12">hCD45<tspan font-size='5' dy='-3'>+</tspan></text>
<text x="144.6" y="294.3" font-size="7.5" text-anchor="middle" fill="#111" font-style="italic" stroke="#111" stroke-width="0.12">From</text>
<text x="144.5" y="304.2" font-size="7.5" text-anchor="middle" fill="#111" font-style="italic" stroke="#111" stroke-width="0.12">CD45<tspan font-size='5' dy='-3'>-</tspan></text>
<text x="200.8" y="294.3" font-size="7.5" text-anchor="middle" fill="#111" font-style="italic" stroke="#111" stroke-width="0.12">From</text>
<text x="199.7" y="304.2" font-size="7.5" text-anchor="middle" fill="#111" font-style="italic" stroke="#111" stroke-width="0.12">hCD45<tspan font-size='5' dy='-3'>+</tspan></text>
<text x="252.5" y="294.3" font-size="7.5" text-anchor="middle" fill="#111" font-style="italic" stroke="#111" stroke-width="0.12">From</text>
<text x="252.3" y="304.2" font-size="7.5" text-anchor="middle" fill="#111" font-style="italic" stroke="#111" stroke-width="0.12">CD45<tspan font-size='5' dy='-3'>-</tspan></text>
<rect x="255.2" y="336.5" width="8.9" height="5.5" fill="#cd8c80"/>
<rect x="255.2" y="345.7" width="8.9" height="5.4" fill="#8f98b9"/>
<text x="267.5" y="341.7" font-size="8" fill="#111" stroke="#111" stroke-width="0.28">C</text>
<text x="267.5" y="351" font-size="8" fill="#111" stroke="#111" stroke-width="0.28">RNP</text>
<text x="64.2" y="407.7" font-size="8" text-anchor="middle" fill="#111" stroke="#111" stroke-width="0.28">T</text>
<text x="90.5" y="407.7" font-size="8" text-anchor="middle" fill="#111" stroke="#111" stroke-width="0.28">B</text>
<text x="116.9" y="407.7" font-size="8" text-anchor="middle" fill="#111" stroke="#111" stroke-width="0.28">M</text>
<text x="143.3" y="407.7" font-size="8" text-anchor="middle" fill="#111" stroke="#111" stroke-width="0.28">E</text>
<text x="173.8" y="407.7" font-size="8" text-anchor="middle" fill="#111" stroke="#111" stroke-width="0.28">T</text>
<text x="200" y="407.7" font-size="8" text-anchor="middle" fill="#111" stroke="#111" stroke-width="0.28">B</text>
<text x="226.4" y="407.7" font-size="8" text-anchor="middle" fill="#111" stroke="#111" stroke-width="0.28">M</text>
<text x="252.5" y="407.7" font-size="8" text-anchor="middle" fill="#111" stroke="#111" stroke-width="0.28">E</text>
<line x1="54.9" y1="413.4" x2="152.7" y2="413.4" stroke="#333" stroke-width="1"/>
<line x1="164.2" y1="413.4" x2="262.5" y2="413.4" stroke="#333" stroke-width="1"/>
<text x="103.8" y="422.8" font-size="8.5" text-anchor="middle" fill="#3d5a98" font-weight="bold">#1</text>
<text x="213.2" y="423.6" font-size="8.5" text-anchor="middle" fill="#c0244c" font-weight="bold">#2</text>
<text x="299.2" y="284.9" font-size="11" fill="#000" font-weight="bold" stroke="#000" stroke-width="0.45">E</text>
<line x1="334.8" y1="302.8" x2="334.8" y2="394.7" stroke="#111" stroke-width="1.2"/>
<line x1="331.6" y1="394.2" x2="334.8" y2="394.2" stroke="#111" stroke-width="1.1"/>
<text x="329.1" y="397.2" font-size="8.5" text-anchor="end" fill="#111" stroke="#111" stroke-width="0.28" letter-spacing="0.3">0</text>
<line x1="331.6" y1="376.5" x2="334.8" y2="376.5" stroke="#111" stroke-width="1.1"/>
<text x="329.1" y="379.5" font-size="8.5" text-anchor="end" fill="#111" stroke="#111" stroke-width="0.28" letter-spacing="0.3">20</text>
<line x1="331.6" y1="358.8" x2="334.8" y2="358.8" stroke="#111" stroke-width="1.1"/>
<text x="329.1" y="361.8" font-size="8.5" text-anchor="end" fill="#111" stroke="#111" stroke-width="0.28" letter-spacing="0.3">40</text>
<line x1="331.6" y1="341.1" x2="334.8" y2="341.1" stroke="#111" stroke-width="1.1"/>
<text x="329.1" y="344.1" font-size="8.5" text-anchor="end" fill="#111" stroke="#111" stroke-width="0.28" letter-spacing="0.3">60</text>
<line x1="331.6" y1="323.4" x2="334.8" y2="323.4" stroke="#111" stroke-width="1.1"/>
<text x="329.1" y="326.4" font-size="8.5" text-anchor="end" fill="#111" stroke="#111" stroke-width="0.28" letter-spacing="0.3">80</text>
<line x1="331.6" y1="305.7" x2="334.8" y2="305.7" stroke="#111" stroke-width="1.1"/>
<text x="329.1" y="308.7" font-size="8.5" text-anchor="end" fill="#111" stroke="#111" stroke-width="0.28" letter-spacing="0.3">100</text>
<text transform="translate(304.7 348.6) rotate(-90) scale(0.78 1)" font-size="9" text-anchor="middle" y="3.24" stroke="#111" stroke-width="0.4" fill="#111">Mutations (%)</text>
<line x1="334.3" y1="394.2" x2="512.7" y2="394.2" stroke="#111" stroke-width="1"/>
<line x1="345.8" y1="394.2" x2="345.8" y2="397.5" stroke="#111" stroke-width="1"/>
<line x1="367.9" y1="394.2" x2="367.9" y2="397.5" stroke="#111" stroke-width="1"/>
<line x1="390.1" y1="394.2" x2="390.1" y2="397.5" stroke="#111" stroke-width="1"/>
<line x1="412.2" y1="394.2" x2="412.2" y2="397.5" stroke="#111" stroke-width="1"/>
<line x1="434.6" y1="394.2" x2="434.6" y2="397.5" stroke="#111" stroke-width="1"/>
<line x1="456.8" y1="394.2" x2="456.8" y2="397.5" stroke="#111" stroke-width="1"/>
<line x1="478.9" y1="394.2" x2="478.9" y2="397.5" stroke="#111" stroke-width="1"/>
<line x1="501.1" y1="394.2" x2="501.1" y2="397.5" stroke="#111" stroke-width="1"/>
<rect x="339.1" y="310.3" width="13.4" height="83.9" fill="#c6c8dc"/>
<rect x="361.2" y="332" width="13.4" height="62.2" fill="#c6c8dc"/>
<rect x="383.4" y="315" width="13.4" height="79.2" fill="#c6c8dc"/>
<rect x="405.5" y="360" width="13.4" height="34.2" fill="#c6c8dc"/>
<rect x="427.9" y="311.9" width="13.4" height="82.3" fill="#c6c8dc"/>
<rect x="450.1" y="347" width="13.4" height="47.2" fill="#c6c8dc"/>
<rect x="472.2" y="310.2" width="13.4" height="84" fill="#c6c8dc"/>
<rect x="494.4" y="375.2" width="13.4" height="19" fill="#c6c8dc"/>
<rect x="339.1" y="384.2" width="13.4" height="10" fill="#8f98b9"/>
<rect x="427.9" y="386.9" width="13.4" height="7.3" fill="#8f98b9"/>
<line x1="391.5" y1="315" x2="391.5" y2="312.5" stroke="#111" stroke-width="1.0"/>
<line x1="389.3" y1="312.5" x2="393.9" y2="312.5" stroke="#111" stroke-width="1.0"/>
<line x1="412.5" y1="359.7" x2="412.5" y2="353.5" stroke="#111" stroke-width="1.0"/>
<line x1="408.35" y1="353.5" x2="416.05" y2="353.5" stroke="#111" stroke-width="1.0"/>
<line x1="478.5" y1="310.2" x2="478.5" y2="306.5" stroke="#111" stroke-width="1.0"/>
<line x1="475.65" y1="306.5" x2="482.15" y2="306.5" stroke="#111" stroke-width="1.0"/>
<line x1="501.5" y1="375.2" x2="501.5" y2="365.5" stroke="#111" stroke-width="1.0"/>
<line x1="497.6" y1="365.5" x2="504.6" y2="365.5" stroke="#111" stroke-width="1.0"/>
<circle cx="345.7" cy="309.7" r="1.62" fill="#0f337a"/>
<circle cx="368" cy="331.2" r="1.62" fill="#0f337a"/>
<circle cx="387.5" cy="312.2" r="1.62" fill="#0f337a"/>
<circle cx="387.5" cy="315.9" r="1.62" fill="#0f337a"/>
<circle cx="392.7" cy="314.7" r="1.62" fill="#0f337a"/>
<circle cx="412.4" cy="352.6" r="1.62" fill="#0f337a"/>
<circle cx="412.4" cy="360.9" r="1.62" fill="#0f337a"/>
<circle cx="412.4" cy="363.6" r="1.62" fill="#0f337a"/>
<circle cx="434.6" cy="311.2" r="1.62" fill="#b8001c"/>
<circle cx="456.6" cy="346.6" r="1.62" fill="#b8001c"/>
<circle cx="473" cy="308.1" r="1.62" fill="#b8001c"/>
<circle cx="479" cy="307.3" r="1.62" fill="#b8001c"/>
<circle cx="485.1" cy="307.4" r="1.62" fill="#b8001c"/>
<circle cx="476.1" cy="312" r="1.62" fill="#b8001c"/>
<circle cx="481.7" cy="312" r="1.62" fill="#b8001c"/>
<circle cx="501.1" cy="362.3" r="1.62" fill="#b8001c"/>
<circle cx="501.1" cy="371.1" r="1.62" fill="#b8001c"/>
<circle cx="501.1" cy="375.1" r="1.62" fill="#b8001c"/>
<circle cx="501.1" cy="379.7" r="1.62" fill="#b8001c"/>
<circle cx="501.1" cy="384.8" r="1.62" fill="#b8001c"/>
<text transform="translate(345.5 404.5) rotate(-45)" font-size="7.9" text-anchor="end" fill="#111" stroke="#111" stroke-width="0.28">small</text>
<text transform="translate(353.3 411.5) rotate(-45)" font-size="7.9" text-anchor="end" fill="#111" stroke="#111" stroke-width="0.28">indels</text>
<text transform="translate(370.7 407) rotate(-45)" font-size="8.5" text-anchor="end" fill="#111" stroke="#111" stroke-width="0.28">&#916;366<tspan font-size="5" dy="-3">*</tspan></text>
<text transform="translate(389.8 404.5) rotate(-45)" font-size="7.9" text-anchor="end" fill="#111" stroke="#111" stroke-width="0.28">small</text>
<text transform="translate(397.6 411.5) rotate(-45)" font-size="7.9" text-anchor="end" fill="#111" stroke="#111" stroke-width="0.28">indels</text>
<text transform="translate(415 407) rotate(-45)" font-size="8.5" text-anchor="end" fill="#111" stroke="#111" stroke-width="0.28">&#916;366<tspan font-size="5" dy="-3">*</tspan></text>
<text transform="translate(434.3 404.5) rotate(-45)" font-size="7.9" text-anchor="end" fill="#111" stroke="#111" stroke-width="0.28">small</text>
<text transform="translate(442.1 411.5) rotate(-45)" font-size="7.9" text-anchor="end" fill="#111" stroke="#111" stroke-width="0.28">indels</text>
<text transform="translate(459.6 407) rotate(-45)" font-size="8.5" text-anchor="end" fill="#111" stroke="#111" stroke-width="0.28">&#916;366<tspan font-size="5" dy="-3">*</tspan></text>
<text transform="translate(478.6 404.5) rotate(-45)" font-size="7.9" text-anchor="end" fill="#111" stroke="#111" stroke-width="0.28">small</text>
<text transform="translate(486.4 411.5) rotate(-45)" font-size="7.9" text-anchor="end" fill="#111" stroke="#111" stroke-width="0.28">indels</text>
<text transform="translate(503.9 407) rotate(-45)" font-size="8.5" text-anchor="end" fill="#111" stroke="#111" stroke-width="0.28">&#916;366<tspan font-size="5" dy="-3">*</tspan></text>
<line x1="339" y1="430.6" x2="374.6" y2="430.6" stroke="#333" stroke-width="1"/>
<line x1="383.5" y1="430.6" x2="418.8" y2="430.6" stroke="#333" stroke-width="1"/>
<line x1="428" y1="430.6" x2="462.9" y2="430.6" stroke="#333" stroke-width="1"/>
<line x1="472.4" y1="430.6" x2="507.7" y2="430.6" stroke="#333" stroke-width="1"/>
<text x="356.8" y="440.7" font-size="8" text-anchor="middle" fill="#111" stroke="#111" stroke-width="0.28">Pre</text>
<text x="401.2" y="440.7" font-size="8" text-anchor="middle" fill="#111" stroke="#111" stroke-width="0.28">BM</text>
<text x="445.5" y="440.7" font-size="8" text-anchor="middle" fill="#111" stroke="#111" stroke-width="0.28">Pre</text>
<text x="490" y="440.7" font-size="8" text-anchor="middle" fill="#111" stroke="#111" stroke-width="0.28">BM</text>
<line x1="339" y1="446.1" x2="418.8" y2="446.1" stroke="#333" stroke-width="1"/>
<line x1="428" y1="446.1" x2="507.7" y2="446.1" stroke="#333" stroke-width="1"/>
<text x="379" y="456.5" font-size="8.5" text-anchor="middle" fill="#3d5a98" font-weight="bold">#1</text>
<text x="468.2" y="456.3" font-size="8.5" text-anchor="middle" fill="#c0244c" font-weight="bold">#2</text>
<text x="12.9" y="452" font-size="11" fill="#000" font-weight="bold" stroke="#000" stroke-width="0.45">F</text>
<line x1="47.2" y1="456.6" x2="47.2" y2="548.8" stroke="#111" stroke-width="1.2"/>
<line x1="44" y1="548.3" x2="47.2" y2="548.3" stroke="#111" stroke-width="1.1"/>
<text x="41.5" y="551.3" font-size="8.5" text-anchor="end" fill="#111" stroke="#111" stroke-width="0.28" letter-spacing="0.3">0</text>
<line x1="44" y1="526.1" x2="47.2" y2="526.1" stroke="#111" stroke-width="1.1"/>
<text x="41.5" y="529.1" font-size="8.5" text-anchor="end" fill="#111" stroke="#111" stroke-width="0.28" letter-spacing="0.3">10</text>
<line x1="44" y1="503.9" x2="47.2" y2="503.9" stroke="#111" stroke-width="1.1"/>
<text x="41.5" y="506.9" font-size="8.5" text-anchor="end" fill="#111" stroke="#111" stroke-width="0.28" letter-spacing="0.3">20</text>
<line x1="44" y1="481.7" x2="47.2" y2="481.7" stroke="#111" stroke-width="1.1"/>
<text x="41.5" y="484.7" font-size="8.5" text-anchor="end" fill="#111" stroke="#111" stroke-width="0.28" letter-spacing="0.3">30</text>
<line x1="44" y1="459.5" x2="47.2" y2="459.5" stroke="#111" stroke-width="1.1"/>
<text x="41.5" y="462.5" font-size="8.5" text-anchor="end" fill="#111" stroke="#111" stroke-width="0.28" letter-spacing="0.3">40</text>
<text transform="translate(21.1 503.1) rotate(-90) scale(0.78 1)" font-size="9" text-anchor="middle" y="3.24" stroke="#111" stroke-width="0.4" fill="#111">HbF (%)</text>
<line x1="46.7" y1="548.3" x2="136.3" y2="548.3" stroke="#111" stroke-width="1"/>
<line x1="59.3" y1="548.3" x2="59.3" y2="551.6" stroke="#111" stroke-width="1"/>
<line x1="80.8" y1="548.3" x2="80.8" y2="551.6" stroke="#111" stroke-width="1"/>
<line x1="102.3" y1="548.3" x2="102.3" y2="551.6" stroke="#111" stroke-width="1"/>
<line x1="123.9" y1="548.3" x2="123.9" y2="551.6" stroke="#111" stroke-width="1"/>
<rect x="52.7" y="537.7" width="13.2" height="10.6" fill="#cd8c80"/>
<rect x="53.05" y="538.05" width="12.5" height="10.25" fill="none" stroke="#c67d6f" stroke-width="0.7"/>
<rect x="74.4" y="492.9" width="12.9" height="55.4" fill="#8f98b9"/>
<rect x="74.75" y="493.25" width="12.2" height="55.05" fill="none" stroke="#8189ae" stroke-width="0.7"/>
<rect x="96" y="535.8" width="12.8" height="12.5" fill="#cd8c80"/>
<rect x="96.35" y="536.15" width="12.1" height="12.15" fill="none" stroke="#c67d6f" stroke-width="0.7"/>
<rect x="117.6" y="495.5" width="12.8" height="52.8" fill="#8f98b9"/>
<rect x="117.95" y="495.85" width="12.1" height="52.45" fill="none" stroke="#8189ae" stroke-width="0.7"/>
<line x1="81.5" y1="492.9" x2="81.5" y2="490.5" stroke="#111" stroke-width="1.0"/>
<line x1="78.6" y1="490.5" x2="83.4" y2="490.5" stroke="#111" stroke-width="1.0"/>
<line x1="102.5" y1="535.8" x2="102.5" y2="533.5" stroke="#111" stroke-width="1.0"/>
<line x1="99.4" y1="533.5" x2="105.6" y2="533.5" stroke="#111" stroke-width="1.0"/>
<line x1="123.5" y1="495.5" x2="123.5" y2="480.5" stroke="#111" stroke-width="1.0"/>
<line x1="120.05" y1="480.5" x2="127.75" y2="480.5" stroke="#111" stroke-width="1.0"/>
<circle cx="59.4" cy="537.1" r="1.62" fill="#0f337a"/>
<circle cx="74.8" cy="492.9" r="1.62" fill="#0f337a"/>
<circle cx="80.6" cy="490.2" r="1.62" fill="#0f337a"/>
<circle cx="86.9" cy="492.5" r="1.62" fill="#0f337a"/>
<circle cx="96.5" cy="535.2" r="1.62" fill="#b8001c"/>
<circle cx="96.5" cy="537.7" r="1.62" fill="#b8001c"/>
<circle cx="102.3" cy="535.2" r="1.62" fill="#b8001c"/>
<circle cx="108.1" cy="533.3" r="1.62" fill="#b8001c"/>
<circle cx="108.1" cy="536.3" r="1.62" fill="#b8001c"/>
<circle cx="123.9" cy="476.4" r="1.62" fill="#b8001c"/>
<circle cx="123.9" cy="484.5" r="1.62" fill="#b8001c"/>
<circle cx="123.9" cy="497.8" r="1.62" fill="#b8001c"/>
<circle cx="123.9" cy="502.4" r="1.62" fill="#b8001c"/>
<circle cx="123.9" cy="511.4" r="1.62" fill="#b8001c"/>
<text x="59.3" y="561.9" font-size="8.4" text-anchor="middle" fill="#111" stroke="#111" stroke-width="0.28">C</text>
<text x="80.8" y="561.9" font-size="8.4" text-anchor="middle" fill="#111" stroke="#111" stroke-width="0.28">RNP</text>
<text x="102.3" y="561.9" font-size="8.4" text-anchor="middle" fill="#111" stroke="#111" stroke-width="0.28">C</text>
<text x="123.9" y="561.9" font-size="8.4" text-anchor="middle" fill="#111" stroke="#111" stroke-width="0.28">RNP</text>
<line x1="53.1" y1="567.1" x2="87" y2="567.1" stroke="#333" stroke-width="1"/>
<line x1="96.1" y1="567.1" x2="130.5" y2="567.1" stroke="#333" stroke-width="1"/>
<text x="70" y="577.1" font-size="8.5" text-anchor="middle" fill="#3d5a98" font-weight="bold">#1</text>
<text x="113.2" y="577.1" font-size="8.5" text-anchor="middle" fill="#c0244c" font-weight="bold">#2</text>
<rect x="0" y="0" width="520" height="1" fill="#000"/><rect x="0" y="0" width="1" height="587" fill="#000"/><rect x="519" y="0" width="1" height="587" fill="#000"/><rect x="0" y="585.8" width="520" height="1.2" fill="#000"/>
</svg>
</body></html>
